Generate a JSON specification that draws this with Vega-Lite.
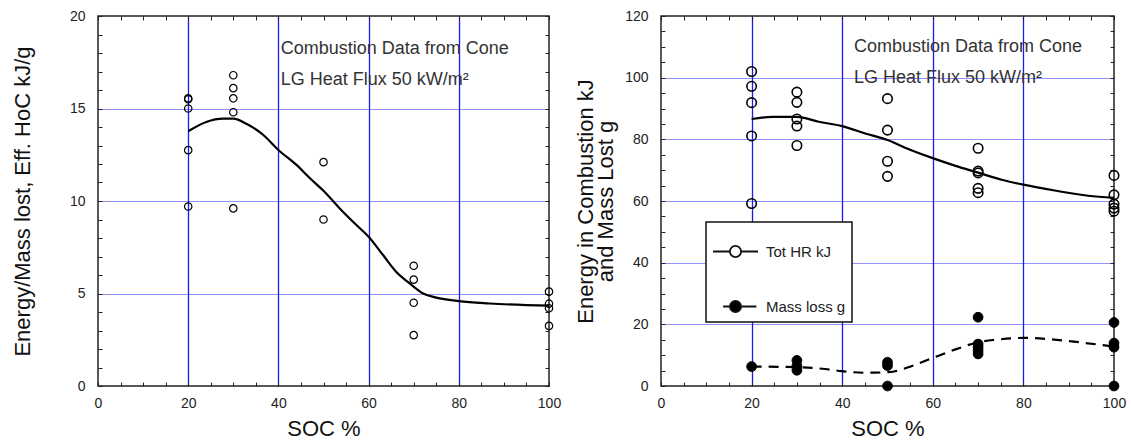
{
  "$schema": "https://vega.github.io/schema/vega-lite/v6.json",
  "background": "white",
  "padding": {"left": 10, "top": 8, "right": 5, "bottom": 5},
  "datasets": {
    "hocPts": [
      {"soc": 20, "hoc": 15.55}, {"soc": 20, "hoc": 15.5}, {"soc": 20, "hoc": 15.0}, {"soc": 20, "hoc": 12.75}, {"soc": 20, "hoc": 9.7},
      {"soc": 30, "hoc": 16.8}, {"soc": 30, "hoc": 16.1}, {"soc": 30, "hoc": 15.55}, {"soc": 30, "hoc": 14.8}, {"soc": 30, "hoc": 9.6},
      {"soc": 50, "hoc": 12.1}, {"soc": 50, "hoc": 9.0},
      {"soc": 70, "hoc": 6.5}, {"soc": 70, "hoc": 5.75}, {"soc": 70, "hoc": 4.5}, {"soc": 70, "hoc": 2.75},
      {"soc": 100, "hoc": 5.1}, {"soc": 100, "hoc": 4.45}, {"soc": 100, "hoc": 4.2}, {"soc": 100, "hoc": 3.25}
    ],
    "hocFit": [
      {"soc": 20, "hoc": 13.77}, {"soc": 24, "hoc": 14.27}, {"soc": 27.7, "hoc": 14.45}, {"soc": 30, "hoc": 14.45},
      {"soc": 33, "hoc": 14.16}, {"soc": 36.6, "hoc": 13.58}, {"soc": 40, "hoc": 12.76}, {"soc": 44, "hoc": 11.95},
      {"soc": 47, "hoc": 11.23}, {"soc": 50, "hoc": 10.55}, {"soc": 53.6, "hoc": 9.6}, {"soc": 57.3, "hoc": 8.7},
      {"soc": 60, "hoc": 8.07}, {"soc": 63.2, "hoc": 7.08}, {"soc": 66.1, "hoc": 6.18}, {"soc": 69.1, "hoc": 5.55},
      {"soc": 72.1, "hoc": 5.0}, {"soc": 75, "hoc": 4.78}, {"soc": 80, "hoc": 4.59}, {"soc": 86.8, "hoc": 4.46},
      {"soc": 100, "hoc": 4.34}
    ],
    "hrPts": [
      {"soc": 20, "value": 102, "series": "Tot HR kJ"}, {"soc": 20, "value": 97.2, "series": "Tot HR kJ"}, {"soc": 20, "value": 91.9, "series": "Tot HR kJ"}, {"soc": 20, "value": 81.1, "series": "Tot HR kJ"}, {"soc": 20, "value": 59.2, "series": "Tot HR kJ"},
      {"soc": 30, "value": 95.3, "series": "Tot HR kJ"}, {"soc": 30, "value": 92, "series": "Tot HR kJ"}, {"soc": 30, "value": 86.6, "series": "Tot HR kJ"}, {"soc": 30, "value": 84.3, "series": "Tot HR kJ"}, {"soc": 30, "value": 78, "series": "Tot HR kJ"},
      {"soc": 50, "value": 93.2, "series": "Tot HR kJ"}, {"soc": 50, "value": 83.0, "series": "Tot HR kJ"}, {"soc": 50, "value": 72.9, "series": "Tot HR kJ"}, {"soc": 50, "value": 68.0, "series": "Tot HR kJ"},
      {"soc": 70, "value": 77.1, "series": "Tot HR kJ"}, {"soc": 70, "value": 69.7, "series": "Tot HR kJ"}, {"soc": 70, "value": 69.1, "series": "Tot HR kJ"}, {"soc": 70, "value": 64.1, "series": "Tot HR kJ"}, {"soc": 70, "value": 62.7, "series": "Tot HR kJ"},
      {"soc": 100, "value": 68.3, "series": "Tot HR kJ"}, {"soc": 100, "value": 62.0, "series": "Tot HR kJ"}, {"soc": 100, "value": 59.0, "series": "Tot HR kJ"}, {"soc": 100, "value": 57.7, "series": "Tot HR kJ"}, {"soc": 100, "value": 56.7, "series": "Tot HR kJ"}
    ],
    "massPts": [
      {"soc": 20, "value": 6.3, "series": "Mass loss g"},
      {"soc": 30, "value": 8.3, "series": "Mass loss g"}, {"soc": 30, "value": 6.5, "series": "Mass loss g"}, {"soc": 30, "value": 5.1, "series": "Mass loss g"},
      {"soc": 50, "value": 7.7, "series": "Mass loss g"}, {"soc": 50, "value": 6.6, "series": "Mass loss g"}, {"soc": 50, "value": 0, "series": "Mass loss g"},
      {"soc": 70, "value": 22.3, "series": "Mass loss g"}, {"soc": 70, "value": 13.6, "series": "Mass loss g"}, {"soc": 70, "value": 12.6, "series": "Mass loss g"}, {"soc": 70, "value": 11.5, "series": "Mass loss g"}, {"soc": 70, "value": 10.4, "series": "Mass loss g"},
      {"soc": 100, "value": 20.6, "series": "Mass loss g"}, {"soc": 100, "value": 13.9, "series": "Mass loss g"}, {"soc": 100, "value": 12.6, "series": "Mass loss g"}, {"soc": 100, "value": 0, "series": "Mass loss g"}
    ],
    "hrFit": [
      {"soc": 20, "value": 86.6}, {"soc": 24.6, "value": 87.3}, {"soc": 30, "value": 87.3}, {"soc": 34.8, "value": 85.7},
      {"soc": 40, "value": 84.3}, {"soc": 45.1, "value": 81.9}, {"soc": 50, "value": 79.8}, {"soc": 54.7, "value": 76.8},
      {"soc": 60, "value": 73.9}, {"soc": 65, "value": 71.4}, {"soc": 70, "value": 69.2}, {"soc": 75.2, "value": 66.9},
      {"soc": 80, "value": 65.3}, {"soc": 86.9, "value": 63.4}, {"soc": 94.3, "value": 61.7}, {"soc": 100, "value": 61.0}
    ],
    "massFit": [
      {"soc": 20, "value": 6.3}, {"soc": 29.7, "value": 6.1}, {"soc": 35.6, "value": 5.6}, {"soc": 40, "value": 4.8},
      {"soc": 45.1, "value": 4.3}, {"soc": 50.3, "value": 4.5}, {"soc": 55.4, "value": 6.5}, {"soc": 60, "value": 9.1},
      {"soc": 64.3, "value": 11.5}, {"soc": 70.1, "value": 14.2}, {"soc": 74.6, "value": 15.1}, {"soc": 80.1, "value": 15.6},
      {"soc": 84.9, "value": 15.3}, {"soc": 92.2, "value": 14.2}, {"soc": 100, "value": 12.8}
    ]
  },
  "spacing": 11,
  "resolve": {"legend": {"shape": "independent", "fill": "independent"}},
  "hconcat": [
    {
      "width": 451,
      "height": 370,
      "layer": [
        {
          "data": {"name": "hocFit"},
          "mark": {"type": "line", "color": "black", "strokeWidth": 2.2, "interpolate": "monotone"},
          "encoding": {
            "x": {
              "field": "soc", "type": "quantitative",
              "scale": {"domain": [0, 100], "nice": false, "zero": false},
              "axis": {
                "orient": "bottom", "title": "SOC %",
                "values": [0, 5, 10, 15, 20, 25, 30, 35, 40, 45, 50, 55, 60, 65, 70, 75, 80, 85, 90, 95, 100],
                "labelExpr": "datum.value % 20 === 0 ? datum.label : ''",
                "grid": true, "gridColor": "#1a1aee", "gridWidth": 1.3,
                "gridOpacity": {"condition": {"test": "datum.value % 20 === 0 && datum.value > 0 && datum.value < 100", "value": 1}, "value": 0}
              }
            },
            "y": {
              "field": "hoc", "type": "quantitative",
              "scale": {"domain": [0, 20], "nice": false},
              "axis": {
                "orient": "left", "title": "Energy/Mass lost, Eff. HoC kJ/g", "titlePadding": 35,
                "values": [0, 1, 2, 3, 4, 5, 6, 7, 8, 9, 10, 11, 12, 13, 14, 15, 16, 17, 18, 19, 20],
                "labelExpr": "datum.value % 5 === 0 ? datum.label : ''",
                "grid": true, "gridColor": "#2020ff", "gridDash": [1, 1], "gridWidth": 1.2,
                "gridOpacity": {"condition": {"test": "datum.value % 5 === 0 && datum.value > 0 && datum.value < 20", "value": 1}, "value": 0}
              }
            }
          }
        },
        {
          "data": {"name": "hocPts"},
          "mark": {"type": "point", "shape": "circle", "filled": false, "stroke": "black", "strokeWidth": 1.2, "size": 55, "opacity": 1},
          "encoding": {
            "x": {
              "field": "soc", "type": "quantitative",
              "axis": {"orient": "top", "title": null, "labels": false, "grid": false,
                "values": [0, 5, 10, 15, 20, 25, 30, 35, 40, 45, 50, 55, 60, 65, 70, 75, 80, 85, 90, 95, 100]}
            },
            "y": {
              "field": "hoc", "type": "quantitative",
              "axis": {"orient": "right", "title": null, "labels": false, "grid": false,
                "values": [0, 1, 2, 3, 4, 5, 6, 7, 8, 9, 10, 11, 12, 13, 14, 15, 16, 17, 18, 19, 20]}
            }
          }
        },
        {
          "data": {"values": [{}]},
          "mark": {"type": "text", "text": ["Combustion Data from Cone", "LG Heat Flux 50 kW/m²"], "lineHeight": 31, "align": "left", "baseline": "middle", "fontSize": 18, "font": "Liberation Sans", "color": "#333"},
          "encoding": {
            "x": {"datum": 40.5, "type": "quantitative", "axis": null},
            "y": {"datum": 18.2, "type": "quantitative", "axis": null}
          }
        }
      ]
    },
    {
      "width": 453,
      "height": 370,
      "layer": [
        {
          "data": {"name": "hrFit"},
          "mark": {"type": "line", "color": "black", "strokeWidth": 2.2, "interpolate": "monotone"},
          "encoding": {
            "x": {
              "field": "soc", "type": "quantitative",
              "scale": {"domain": [0, 100], "nice": false, "zero": false},
              "axis": {
                "orient": "bottom", "title": "SOC %",
                "values": [0, 5, 10, 15, 20, 25, 30, 35, 40, 45, 50, 55, 60, 65, 70, 75, 80, 85, 90, 95, 100],
                "labelExpr": "datum.value % 20 === 0 ? datum.label : ''",
                "grid": true, "gridColor": "#1a1aee", "gridWidth": 1.3,
                "gridOpacity": {"condition": {"test": "datum.value % 20 === 0 && datum.value > 0 && datum.value < 100", "value": 1}, "value": 0}
              }
            },
            "y": {
              "field": "value", "type": "quantitative",
              "scale": {"domain": [0, 120], "nice": false},
              "axis": {
                "orient": "left", "title": ["Energy in Combustion kJ", "and Mass Lost g"], "titlePadding": 7, "titleLineHeight": 20,
                "values": [0, 5, 10, 15, 20, 25, 30, 35, 40, 45, 50, 55, 60, 65, 70, 75, 80, 85, 90, 95, 100, 105, 110, 115, 120],
                "labelExpr": "datum.value % 20 === 0 ? datum.label : ''",
                "grid": true, "gridColor": "#2020ff", "gridDash": [1, 1], "gridWidth": 1.2,
                "gridOpacity": {"condition": {"test": "datum.value % 20 === 0 && datum.value > 0 && datum.value < 120", "value": 1}, "value": 0}
              }
            }
          }
        },
        {
          "data": {"name": "massFit"},
          "mark": {"type": "line", "color": "black", "strokeWidth": 2.2, "strokeDash": [10, 7], "interpolate": "monotone"},
          "encoding": {
            "x": {
              "field": "soc", "type": "quantitative",
              "axis": {"orient": "top", "title": null, "labels": false, "grid": false,
                "values": [0, 5, 10, 15, 20, 25, 30, 35, 40, 45, 50, 55, 60, 65, 70, 75, 80, 85, 90, 95, 100]}
            },
            "y": {
              "field": "value", "type": "quantitative",
              "axis": {"orient": "right", "title": null, "labels": false, "grid": false,
                "values": [0, 5, 10, 15, 20, 25, 30, 35, 40, 45, 50, 55, 60, 65, 70, 75, 80, 85, 90, 95, 100, 105, 110, 115, 120]}
            }
          }
        },
        {
          "data": {"name": "hrPts"},
          "mark": {"type": "point", "shape": "circle", "filled": false, "stroke": "black", "strokeWidth": 1.6, "size": 90, "opacity": 1},
          "encoding": {
            "x": {"field": "soc", "type": "quantitative", "axis": null},
            "y": {"field": "value", "type": "quantitative", "axis": null}
          }
        },
        {
          "data": {"name": "massPts"},
          "mark": {"type": "point", "shape": "circle", "filled": true, "fill": "black", "stroke": "black", "strokeWidth": 1, "size": 95, "opacity": 1},
          "encoding": {
            "x": {"field": "soc", "type": "quantitative", "axis": null},
            "y": {"field": "value", "type": "quantitative", "axis": null}
          }
        },
        {
          "data": {"name": "hrPts"},
          "mark": {"type": "point", "filled": true, "stroke": "black", "opacity": 0},
          "encoding": {
            "x": {"field": "soc", "type": "quantitative", "axis": null},
            "y": {"field": "value", "type": "quantitative", "axis": null},
            "shape": {
              "field": "series", "type": "nominal",
              "scale": {
                "domain": ["Tot HR kJ", "Mass loss g"],
                "range": [
                  "M-1,0H-0.26M0.26,0H1M-0.25,0A0.25,0.25 0 1,0 0.25,0A0.25,0.25 0 1,0 -0.25,0",
                  "M-0.55,0H-0.27M0.27,0H0.93M-0.25,0A0.25,0.25 0 1,0 0.25,0A0.25,0.25 0 1,0 -0.25,0"
                ]
              },
              "legend": {
                "title": null, "orient": "none", "legendX": 45, "legendY": 206,
                "fillColor": "white", "strokeColor": "#111",
                "padding": 6, "rowPadding": 22,
                "symbolSize": 2025, "symbolStrokeColor": "#111", "symbolStrokeWidth": 1.8, "symbolOpacity": 1,
                "labelFont": "Liberation Sans", "labelFontSize": 15, "labelColor": "#222", "labelOffset": 7,
                "encode": {"legend": {"update": {"strokeWidth": {"value": 1.5}}}}
              }
            },
            "fill": {
              "field": "series", "type": "nominal",
              "scale": {"domain": ["Tot HR kJ", "Mass loss g"], "range": ["white", "black"]},
              "legend": {
                "title": null, "orient": "none", "legendX": 45, "legendY": 206,
                "fillColor": "white", "strokeColor": "#111",
                "padding": 6, "rowPadding": 22,
                "symbolSize": 2025, "symbolStrokeColor": "#111", "symbolStrokeWidth": 1.8, "symbolOpacity": 1,
                "labelFont": "Liberation Sans", "labelFontSize": 15, "labelColor": "#222", "labelOffset": 7,
                "encode": {"legend": {"update": {"strokeWidth": {"value": 1.5}}}}
              }
            }
          }
        },
        {
          "data": {"values": [{}]},
          "mark": {"type": "text", "text": ["Combustion Data from Cone", "LG Heat Flux 50 kW/m²"], "lineHeight": 31, "align": "left", "baseline": "middle", "fontSize": 18, "font": "Liberation Sans", "color": "#333"},
          "encoding": {
            "x": {"datum": 42.6, "type": "quantitative", "axis": null},
            "y": {"datum": 110, "type": "quantitative", "axis": null}
          }
        }
      ]
    }
  ],
  "config": {
    "font": "Liberation Sans",
    "view": {"stroke": "#222", "strokeWidth": 1.5},
    "axis": {
      "domain": false, "tickSize": -4, "tickColor": "#222", "tickWidth": 1,
      "labelFont": "Liberation Sans", "labelFontSize": 14, "labelColor": "#222",
      "labelFlush": false, "labelOverlap": false,
      "titleFont": "Liberation Sans", "titleFontSize": 22, "titleFontWeight": "normal", "titleColor": "#111"
    },
    "axisX": {"labelPadding": 14, "titlePadding": 8},
    "axisY": {"labelPadding": 17}
  }
}
